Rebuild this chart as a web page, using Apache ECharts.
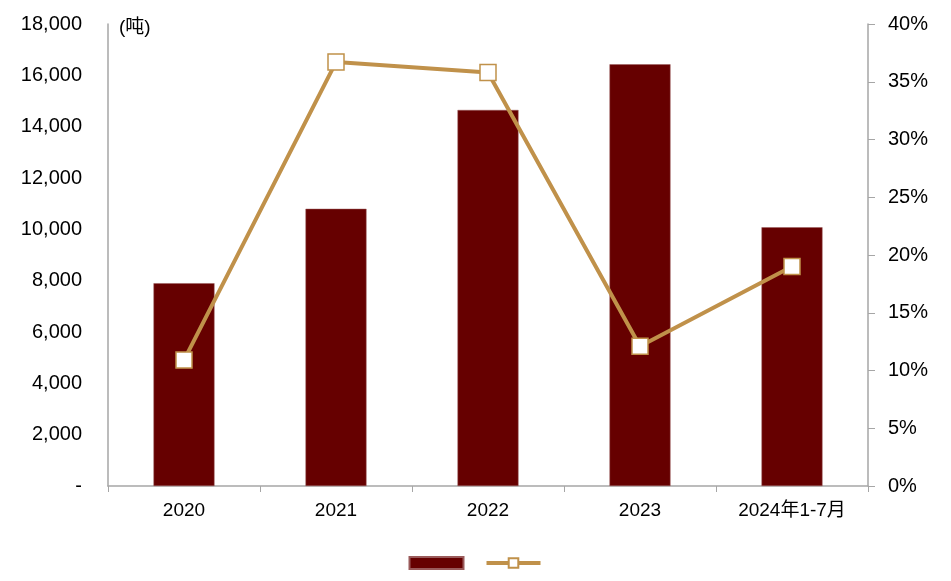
<!DOCTYPE html>
<html><head><meta charset="utf-8">
<script src="https://cdn.jsdelivr.net/npm/echarts@6/dist/echarts.min.js"></script>
<style>html,body{margin:0;padding:0;background:#fff}#c{width:951px;height:581px}</style>
</head><body><div id="c"></div>
<script>
var categories = ['2020','2021','2022','2023','2024年1-7月'];
var output = [7900, 10800, 14650, 16430, 10080];
var growth = [10.9, 36.7, 35.8, 12.1, 19.0];
var leftTicks = {min:0, max:18000, interval:2000};
var rightTicks = {min:0, max:40, interval:5};

var font = '"Liberation Sans", Arial, "Noto Sans CJK SC", sans-serif';
var chart = echarts.init(document.getElementById('c'));
chart.setOption({
  animation:false,
  textStyle:{fontFamily:font},
  grid:{left:108, right:83, top:24, bottom:95},
  legend:{
    bottom:6, left:'center', itemGap:20, itemWidth:54, itemHeight:12,
    formatter:function(){return '';},
    textStyle:{fontSize:1},
    data:[{name:'产量', icon:'rect'},{name:'增速', lineStyle:{width:4}}]
  },
  xAxis:{
    type:'category', data:categories,
    axisLine:{lineStyle:{color:'#A6A6A6', width:1.5}},
    axisTick:{show:true, length:6, lineStyle:{color:'#A6A6A6'}},
    axisLabel:{color:'#000', fontSize:19, margin:15, fontFamily:font}
  },
  yAxis:[{
    type:'value', min:leftTicks.min, max:leftTicks.max, interval:leftTicks.interval,
    splitLine:{show:false},
    axisLine:{show:true, lineStyle:{color:'#A6A6A6', width:1.5}},
    axisTick:{show:false},
    axisLabel:{color:'#000', fontSize:20, margin:26, fontFamily:font,
      formatter:function(v){return v===0?'-':v.toLocaleString('en-US');}}
  },{
    type:'value', min:rightTicks.min, max:rightTicks.max, interval:rightTicks.interval,
    splitLine:{show:false},
    axisLine:{show:true, lineStyle:{color:'#A6A6A6', width:1.5}},
    axisTick:{show:true, inside:false, length:7, lineStyle:{color:'#A6A6A6'}},
    axisLabel:{color:'#000', fontSize:20, margin:20, fontFamily:font, formatter:'{value}%'}
  }],
  graphic:[{type:'text', left:119, top:18, style:{text:'(吨)', fontSize:19, fill:'#000', fontFamily:font}}],
  series:[{
    name:'产量', type:'bar', data:output, barWidth:61,
    itemStyle:{color:'#660000', borderColor:'#9a5a5a', borderWidth:0.5}
  },{
    name:'增速', type:'line', yAxisIndex:1, data:growth,
    lineStyle:{color:'#C0914A', width:4},
    symbol:'rect', symbolSize:16,
    itemStyle:{color:'#fff', borderColor:'#C0914A', borderWidth:1.5}
  }]
});
</script></body></html>
